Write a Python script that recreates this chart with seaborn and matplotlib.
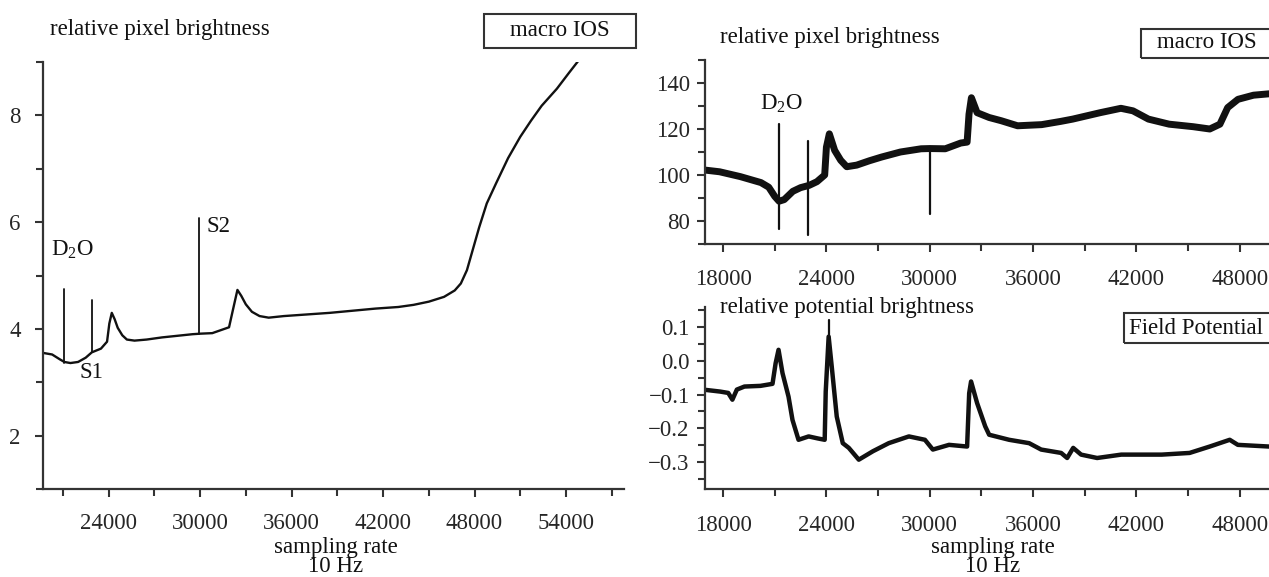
import matplotlib
matplotlib.use("Agg")
import matplotlib.pyplot as plt
from matplotlib.ticker import MultipleLocator
from matplotlib.patches import Rectangle
import seaborn as sns
import pandas as pd

# ---------------- data ----------------
# left panel: macro IOS, relative pixel brightness
left_x = [19700, 20300, 20800, 21100, 21500, 22000, 22500, 22900, 23500, 23900, 24050, 24210,
          24400, 24600, 24900, 25200, 25700, 26500, 27500, 28500, 29500, 30000, 30800, 31300,
          31900, 32150, 32450, 32700, 33000, 33400, 33900, 34500, 35500, 37000, 38500, 40000,
          41500, 43000, 44000, 45000, 46000, 46700, 47100, 47500, 47900, 48300, 48800, 49400,
          50200, 51000, 51700, 52400, 53400, 54200, 54800]
left_y = [3.55, 3.52, 3.43, 3.38, 3.36, 3.38, 3.46, 3.56, 3.63, 3.76, 4.10, 4.30,
          4.18, 4.02, 3.88, 3.80, 3.78, 3.80, 3.84, 3.87, 3.90, 3.91, 3.92, 3.97,
          4.03, 4.35, 4.73, 4.62, 4.46, 4.32, 4.24, 4.21, 4.24, 4.27, 4.30, 4.34,
          4.38, 4.41, 4.45, 4.51, 4.60, 4.72, 4.85, 5.10, 5.50, 5.90, 6.35, 6.72,
          7.20, 7.60, 7.90, 8.18, 8.50, 8.80, 9.02]
left_spike_x = [21100, 22900, 29920]
left_spike_lo = [3.36, 3.56, 3.90]
left_spike_hi = [4.75, 4.54, 6.07]

# right top: macro IOS
rt_x = [17000, 17800, 19000, 20200, 20650, 21000, 21250, 21550, 22050, 22500, 23000, 23450,
        23900, 24000, 24170, 24480, 24830, 25180, 25760, 26500, 27200, 28300, 29500, 30000,
        30900, 31800, 32170, 32280, 32420, 32750, 33450, 34150, 35100, 36500, 37600, 38300,
        39900, 41100, 41800, 42700, 43900, 45300, 46260, 46850, 47300, 47900, 48800, 49700]
rt_y = [102.1, 101.4, 99.3, 96.7, 94.7, 90.7, 88.6, 89.3, 92.9, 94.5, 95.5, 97.1,
        100.0, 112.1, 117.9, 110.7, 106.4, 103.6, 104.3, 106.2, 107.8, 110.0, 111.4, 111.5,
        111.4, 113.9, 114.3, 126.4, 133.6, 127.1, 125.0, 123.6, 121.4, 121.9, 123.3, 124.3,
        127.1, 129.0, 127.9, 124.3, 122.1, 121.0, 120.0, 122.1, 129.3, 132.9, 134.7, 135.3]
rt_spike_x = [21220, 22920, 30000]
rt_spike_lo = [76.7, 73.9, 82.9]
rt_spike_hi = [122.1, 114.7, 112.0]

# right bottom: field potential
rb_x = [17000, 17840, 18300, 18540, 18800, 19240, 20170, 20870, 21050, 21220, 21450, 21800,
        22030, 22380, 22970, 23500, 23900, 23960, 24130, 24310, 24600, 24950, 25300, 25880,
        26700, 27620, 28790, 29720, 30180, 31120, 32170, 32290, 32400, 32750, 33220, 33450,
        34610, 35770, 36470, 37630, 37980, 38330, 38790, 39720, 41120, 43470, 45090, 46260,
        47420, 47890, 49700]
rb_y = [-0.086, -0.091, -0.095, -0.115, -0.085, -0.076, -0.074, -0.068, -0.007, 0.033, -0.036, -0.106,
        -0.175, -0.234, -0.224, -0.230, -0.234, -0.091, 0.072, -0.017, -0.165, -0.244, -0.258, -0.293,
        -0.268, -0.244, -0.224, -0.234, -0.263, -0.249, -0.254, -0.096, -0.061, -0.125, -0.194, -0.219,
        -0.234, -0.244, -0.263, -0.273, -0.288, -0.258, -0.278, -0.288, -0.278, -0.278, -0.273, -0.254,
        -0.234, -0.249, -0.254]
rb_spike_x = [24130]
rb_spike_lo = [0.03]
rb_spike_hi = [0.121]

# ---------------- style ----------------
sns.set_style("ticks")
plt.rcParams['font.family'] = ['Liberation Serif', 'DejaVu Serif']
plt.rcParams['mathtext.fontset'] = 'custom'
plt.rcParams['mathtext.rm'] = 'Liberation Serif'
plt.rcParams['mathtext.it'] = 'Liberation Serif:italic'

FS = 16.5
INK = "#111111"
SPINE = "#333333"

fig = plt.figure(figsize=(12.69, 5.77), dpi=100)
W, H = 1269.0, 577.0


def ax_at(l, t, r, b):
    return fig.add_axes([l / W, 1 - b / H, (r - l) / W, (b - t) / H])


def spikes_df(xs, lo, hi):
    rows = []
    for i, (x, a, b) in enumerate(zip(xs, lo, hi)):
        rows.append({"x": x, "y": a, "u": i, "o": 0})
        rows.append({"x": x, "y": b, "u": i, "o": 1})
    return pd.DataFrame(rows)


def style_axes(ax, ypad, xpad):
    for s in ["top", "right"]:
        ax.spines[s].set_visible(False)
    for s in ["left", "bottom"]:
        ax.spines[s].set_color(SPINE)
        ax.spines[s].set_linewidth(1.6)
    ax.tick_params(axis="both", which="major", length=6, width=1.5, color=SPINE, labelsize=FS)
    ax.tick_params(axis="both", which="minor", length=5, width=1.5, color=SPINE)
    ax.tick_params(axis="y", which="major", pad=ypad)
    ax.tick_params(axis="x", which="major", pad=xpad)
    ax.set_xlabel("")
    ax.set_ylabel("")


# ---------------- left panel ----------------
axL = ax_at(43, 62, 624, 489)
sns.lineplot(x=left_x, y=left_y, ax=axL, color=INK, linewidth=1.7, sort=False, estimator=None)
sns.lineplot(data=spikes_df(left_spike_x, left_spike_lo, left_spike_hi), x="x", y="y", units="u",
             estimator=None, sort=False, ax=axL, color=INK, linewidth=1.3)
axL.set_xlim(19700, 57800)
axL.set_ylim(1, 9)
axL.xaxis.set_major_locator(MultipleLocator(6000))
axL.xaxis.set_minor_locator(MultipleLocator(3000))
axL.yaxis.set_major_locator(MultipleLocator(2))
axL.yaxis.set_minor_locator(MultipleLocator(1))
style_axes(axL, 10, 11)
axL.text(20250, 5.48, "D$_2$O", fontsize=FS, ha="left", va="center", color=INK)
axL.text(30450, 5.91, "S2", fontsize=FS, ha="left", va="center", color=INK)
axL.text(22900, 3.18, "S1", fontsize=FS, ha="center", va="center", color=INK)

fig.text(50 / W, 1 - 30 / H, "relative pixel brightness", fontsize=FS, ha="left", va="center", color=INK)
fig.patches.append(Rectangle((484 / W, 1 - 48 / H), (636 - 484) / W, 34 / H, transform=fig.transFigure,
                             fill=False, edgecolor=SPINE, linewidth=1.5))
fig.text(560 / W, 1 - 31 / H, "macro IOS", fontsize=FS, ha="center", va="center", color=INK)
fig.text(336 / W, 1 - 547 / H, "sampling rate", fontsize=FS, ha="center", va="center", color=INK)
fig.text(336 / W, 1 - 567 / H, "10 Hz", fontsize=FS, ha="center", va="center", color=INK)

# ---------------- right top panel ----------------
axT = ax_at(705, 60, 1269, 244)
sns.lineplot(x=rt_x, y=rt_y, ax=axT, color=INK, linewidth=5.0, sort=False, estimator=None)
sns.lineplot(data=spikes_df(rt_spike_x, rt_spike_lo, rt_spike_hi), x="x", y="y", units="u",
             estimator=None, sort=False, ax=axT, color=INK, linewidth=1.6)
axT.set_xlim(16950, 49700)
axT.set_ylim(70, 150)
axT.xaxis.set_major_locator(MultipleLocator(6000))
axT.xaxis.set_minor_locator(MultipleLocator(3000))
axT.yaxis.set_major_locator(MultipleLocator(20))
axT.yaxis.set_minor_locator(MultipleLocator(10))
style_axes(axT, 5, 12)
axT.text(20150, 130.9, "D$_2$O", fontsize=FS, ha="left", va="center", color=INK)

fig.text(720 / W, 1 - 38 / H, "relative pixel brightness", fontsize=FS, ha="left", va="center", color=INK)
fig.patches.append(Rectangle((1141 / W, 1 - 58 / H), (1290 - 1141) / W, 29 / H, transform=fig.transFigure,
                             fill=False, edgecolor=SPINE, linewidth=1.5, clip_on=False))
fig.text(1157 / W, 1 - 43 / H, "macro IOS", fontsize=FS, ha="left", va="center", color=INK)

# ---------------- right bottom panel ----------------
axB = ax_at(705, 307, 1269, 489)
sns.lineplot(x=rb_x, y=rb_y, ax=axB, color=INK, linewidth=3.2, sort=False, estimator=None)
sns.lineplot(data=spikes_df(rb_spike_x, rb_spike_lo, rb_spike_hi), x="x", y="y", units="u",
             estimator=None, sort=False, ax=axB, color=INK, linewidth=1.6)
axB.set_xlim(16950, 49700)
axB.set_ylim(-0.38, 0.16)
axB.xaxis.set_major_locator(MultipleLocator(6000))
axB.xaxis.set_minor_locator(MultipleLocator(3000))
axB.yaxis.set_major_locator(MultipleLocator(0.1))
axB.yaxis.set_minor_locator(MultipleLocator(0.05))
style_axes(axB, 5, 13)

fig.text(720 / W, 1 - 308 / H, "relative potential brightness", fontsize=FS, ha="left", va="center", color=INK)
fig.patches.append(Rectangle((1124 / W, 1 - 343 / H), (1290 - 1124) / W, 30 / H, transform=fig.transFigure,
                             fill=False, edgecolor=SPINE, linewidth=1.5, clip_on=False))
fig.text(1129 / W, 1 - 328 / H, "Field Potential", fontsize=FS, ha="left", va="center", color=INK)
fig.text(993 / W, 1 - 547 / H, "sampling rate", fontsize=FS, ha="center", va="center", color=INK)
fig.text(993 / W, 1 - 567 / H, "10 Hz", fontsize=FS, ha="center", va="center", color=INK)

fig.savefig("out.png", dpi=100)
